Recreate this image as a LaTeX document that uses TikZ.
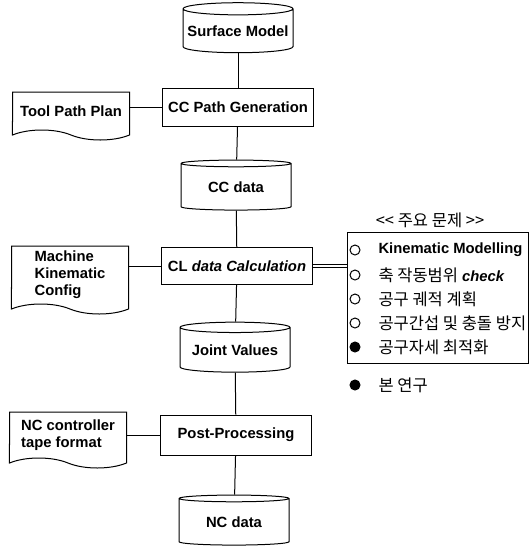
\documentclass[tikz,border=0pt]{standalone}
\usepackage{fontspec}
\setmainfont{Liberation Sans}
\newfontfamily\kr{Noto Sans CJK KR}
\usetikzlibrary{shapes.geometric,shapes.symbols}

\begin{document}
\begin{tikzpicture}[x=1pt,y=-1pt,
  line width=1pt,font=\fontsize{14.8}{17}\selectfont\bfseries,
  store node/.style={cylinder,shape border rotate=90,draw,aspect=0.12,minimum width=110pt,minimum height=50pt,inner sep=0pt},
  proc node/.style={rectangle,draw,minimum width=151pt,minimum height=38pt,inner sep=0pt},
  doc node/.style={tape,tape bend top=none,tape bend bottom=out and in,tape bend height=10pt,draw,align=left,inner sep=0pt,minimum width=117pt},
  item node/.style={anchor=west,inner sep=0pt},
  kr text/.style={font=\fontsize{16.5}{18}\selectfont\kr\mdseries},
  dot node/.style={circle,draw,minimum size=10pt,inner sep=0pt}]
\useasboundingbox (0,0) rectangle (529,547);

  % main column
  \node[store node] (sm) at (238,31) {Surface Model};
  \node[proc node] (ccgen) at (238,107) {CC Path Generation};
  \node[store node] (ccdata) at (236,187) {CC data};
  \node[proc node, minimum height=37pt] (cldata) at (237,266) {CL \textit{data Calculation}};
  \node[store node] (joint) at (235,350) {Joint Values};
  \node[proc node, minimum height=40pt] (post) at (236,435) {Post-Processing};
  \node[store node] (ncdata) at (234,522) {NC data};

  % inputs
  \node[doc node, minimum height=48pt] (plan) at (71,111) {Tool Path Plan};
  \node[doc node, minimum height=68pt] (mkc) at (70,275) {Machine\\Kinematic\\Config};
  \node[doc node, minimum height=56pt] (nct) at (68,435) {NC controller\\tape format};

  % problems
  \node[draw,minimum width=181pt,minimum height=131pt] (prob) at (437.5,297.5) {};
  \node[kr text] (title) at (430,220) {<< 주요 문제 >>};
  \node[dot node] (d1) at (355,250) {};
  \node[dot node] (d2) at (355,275) {};
  \node[dot node] (d3) at (355,299) {};
  \node[dot node] (d4) at (355,323) {};
  \node[dot node, fill] (d5) at (355,347) {};
  \node[item node] (t1) at (378,250) {Kinematic Modelling};
  \node[item node] (t2) at (378,275) {{\fontsize{16.5}{18}\selectfont\kr\mdseries 축 작동범위} \textit{check}};
  \node[item node, kr text] (t3) at (378,299) {공구 궤적 계획};
  \node[item node, kr text] (t4) at (378,323) {공구간섭 및 충돌 방지};
  \node[item node, kr text] (t5) at (378,347) {공구자세 최적화};
  \node[dot node, fill] (d6) at (355,385) {};
  \node[item node, kr text] (t6) at (378,385) {본 연구};

  \path
   (sm) edge (ccgen)
   (ccgen) edge (ccdata)
   (ccdata) edge (cldata)
   (cldata) edge (joint)
   (joint) edge (post)
   (post) edge (ncdata)
   (ccgen.west) edge (ccgen.west -| plan.east)
   (cldata.west) edge (cldata.west -| mkc.east)
   (post.west) edge (post.west -| nct.east);
  \draw[double,double distance=2pt,line width=0.8pt] (cldata.east) -- (cldata.east -| prob.west);
\end{tikzpicture}
\end{document}
